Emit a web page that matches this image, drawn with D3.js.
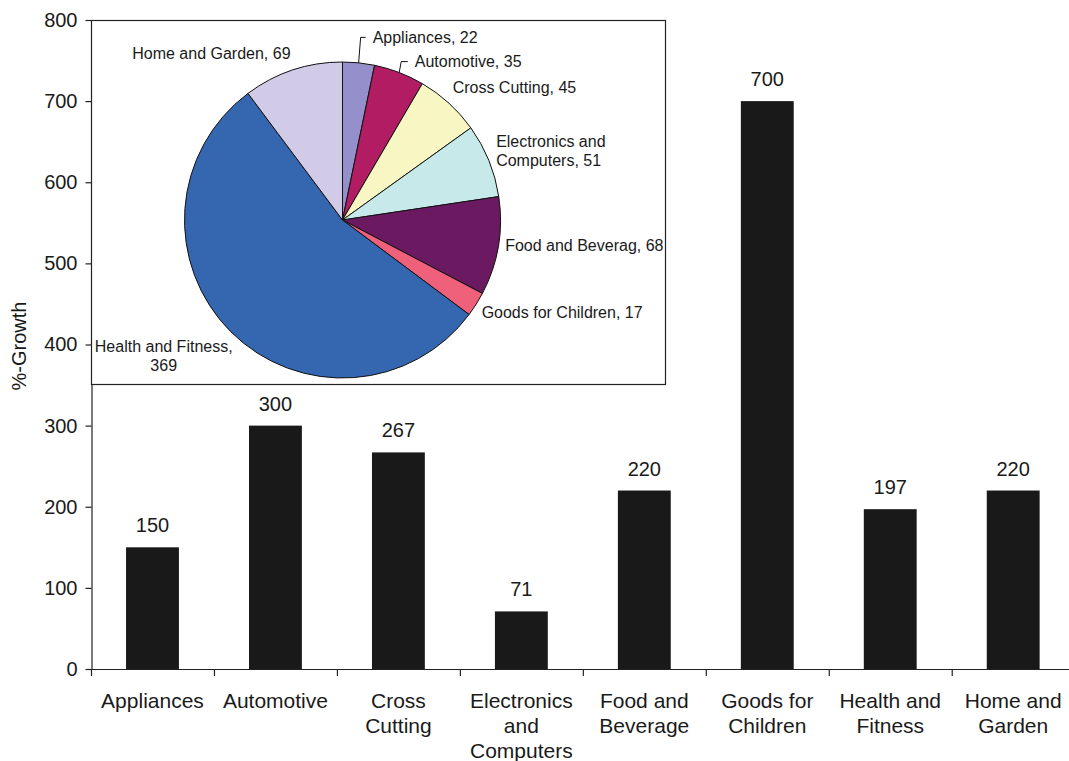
<!DOCTYPE html>
<html>
<head>
<meta charset="utf-8">
<script src="https://cdn.jsdelivr.net/npm/d3@7"></script>
<style>
  body { margin: 0; background: #fff; }
  svg { display: block; font-family: "Liberation Sans", Arial, Helvetica, sans-serif; }
</style>
</head>
<body>
<svg id="chart" width="1069" height="761"></svg>
<script>
// ---- Bar chart data: %-growth per market sector ----
const categories = ["Appliances", "Automotive", "Cross Cutting", "Electronics and Computers",
                    "Food and Beverage", "Goods for Children", "Health and Fitness", "Home and Garden"];
const categoryLines = [["Appliances"], ["Automotive"], ["Cross", "Cutting"], ["Electronics", "and", "Computers"],
                       ["Food and", "Beverage"], ["Goods for", "Children"], ["Health and", "Fitness"], ["Home and", "Garden"]];
const growth = [150, 300, 267, 71, 220, 700, 197, 220];
const yTicks = [0, 100, 200, 300, 400, 500, 600, 700, 800];

// ---- Inset pie data: counts per sector ----
const pieNames = ["Appliances", "Automotive", "Cross Cutting", "Electronics and Computers",
                  "Food and Beverag", "Goods for Children", "Health and Fitness", "Home and Garden"];
const pieValues = [22, 35, 45, 51, 68, 17, 369, 69];
const pieColors = ["#9590cb", "#b21c63", "#f8f6c2", "#c7e9ea", "#6b1a61", "#ef607b", "#3566b0", "#d1cbe7"];

const svg = d3.select("#chart");
const plotLeft = 91, plotTop = 20, plotBottom = 669;
const bandStep = 122.96;
const plotRight = plotLeft + bandStep * categories.length;

const x = d3.scaleBand().domain(categories).range([plotLeft, plotRight]).paddingInner(0.57).paddingOuter(0.285);
const y = d3.scaleLinear().domain([0, 800]).range([plotBottom, plotTop]);

const ink = "#222";

// Bars
svg.append("g").selectAll("rect")
  .data(categories)
  .join("rect")
  .attr("x", (d) => x(d))
  .attr("width", x.bandwidth())
  .attr("y", (d, i) => y(growth[i]))
  .attr("height", (d, i) => y(0) - y(growth[i]))
  .attr("fill", "#191919");

// Value labels above bars
svg.append("g").selectAll("text")
  .data(categories)
  .join("text")
  .attr("x", (d) => x(d) + x.bandwidth() / 2)
  .attr("y", (d, i) => y(growth[i]) - 15)
  .attr("text-anchor", "middle")
  .attr("font-size", 20)
  .attr("fill", "#1a1a1a")
  .text((d, i) => growth[i]);

// Y axis
const yAxis = svg.append("g")
  .attr("transform", `translate(${plotLeft + 0.5},0)`)
  .call(d3.axisLeft(y).tickValues(yTicks).tickSize(6).tickSizeOuter(0).tickPadding(8));
yAxis.selectAll("path, line").attr("stroke", ink).attr("stroke-width", 1.2);
yAxis.selectAll("text").attr("font-size", 20).attr("fill", "#1a1a1a");
yAxis.attr("font-family", null).attr("font-size", null);

// X axis line and band-boundary ticks
const xg = svg.append("g");
xg.append("line")
  .attr("x1", plotLeft).attr("x2", plotRight)
  .attr("y1", plotBottom + 0.5).attr("y2", plotBottom + 0.5)
  .attr("stroke", ink).attr("stroke-width", 1.2);
xg.selectAll("line.tick")
  .data(d3.range(categories.length + 1))
  .join("line")
  .attr("class", "tick")
  .attr("x1", (i) => plotLeft + 0.5 + i * x.step())
  .attr("x2", (i) => plotLeft + 0.5 + i * x.step())
  .attr("y1", plotBottom).attr("y2", plotBottom + 7)
  .attr("stroke", ink).attr("stroke-width", 1.2);

// Category labels (multi-line)
const catText = xg.selectAll("text")
  .data(categories)
  .join("text")
  .attr("text-anchor", "middle")
  .attr("font-size", 21)
  .attr("fill", "#1a1a1a");
catText.each(function (d, i) {
  const t = d3.select(this);
  categoryLines[i].forEach((line, j) => {
    t.append("tspan")
      .attr("x", x(d) + x.bandwidth() / 2)
      .attr("y", 708 + j * 25)
      .text(line);
  });
});

// Y axis title
svg.append("text")
  .attr("transform", `translate(26,346) rotate(-90)`)
  .attr("text-anchor", "middle")
  .attr("font-size", 20)
  .attr("fill", "#1a1a1a")
  .text("%-Growth");

// ---- Inset pie ----
svg.append("rect")
  .attr("x", plotLeft + 0.5).attr("y", plotTop + 0.5)
  .attr("width", 574).attr("height", 364)
  .attr("fill", "#fff")
  .attr("stroke", ink).attr("stroke-width", 1.2);

const cx = 342.5, cy = 220, R = 158;
const pie = d3.pie().sort(null).value((d) => d)(pieValues);
const arc = d3.arc().innerRadius(0).outerRadius(R);
const pg = svg.append("g").attr("transform", `translate(${cx},${cy})`);

pg.selectAll("path")
  .data(pie)
  .join("path")
  .attr("d", arc)
  .attr("fill", (d, i) => pieColors[i])
  .attr("stroke", "#111")
  .attr("stroke-width", 1);

// Label placement: offset from the slice's outer mid-point; anchor and line layout per label
const labelLayout = [
  { dx: 13, dy: -15.5, anchor: "start", leader: true },
  { dx: 12, dy: -1.6, anchor: "start", leader: true },
  { dx: -3, dy: -8, anchor: "start" },
  { dx: -2, dy: -6, anchor: "start" },
  { dx: -3, dy: -2, anchor: "start" },
  { dx: -3, dy: 3, anchor: "start" },
  { dx: -60, dy: 17, anchor: "middle" },
  { dx: 1, dy: -7, anchor: "end" }
];
const pieLabelLines = pie.map((d, i) => {
  const name = pieNames[i];
  if (i === 3) return ["Electronics and", "Computers, " + pieValues[i]];
  if (i === 6) return ["Health and Fitness,", String(pieValues[i])];
  return [name + ", " + pieValues[i]];
});

pie.forEach((d, i) => {
  const a = (d.startAngle + d.endAngle) / 2;
  const px = Math.sin(a) * (R + 10);
  const py = -Math.cos(a) * (R + 10);
  const L = labelLayout[i];
  const lines = pieLabelLines[i];
  const lh = 18.5;
  const midY = py + L.dy;
  const t = pg.append("text")
    .attr("text-anchor", L.anchor)
    .attr("font-size", 16)
    .attr("fill", "#1a1a1a");
  lines.forEach((ln, j) => {
    t.append("tspan")
      .attr("x", px + L.dx)
      .attr("y", midY + 5.5 + (j - (lines.length - 1) / 2) * lh)
      .text(ln);
  });
  if (L.leader) {
    const ax = Math.sin(a) * R, ay = -Math.cos(a) * R;
    const bx = ax + 2;
    pg.append("path")
      .attr("d", `M${ax},${ay}L${bx},${midY}L${px + L.dx - 7},${midY}`)
      .attr("fill", "none")
      .attr("stroke", "#111")
      .attr("stroke-width", 1);
  }
});
</script>
</body>
</html>
